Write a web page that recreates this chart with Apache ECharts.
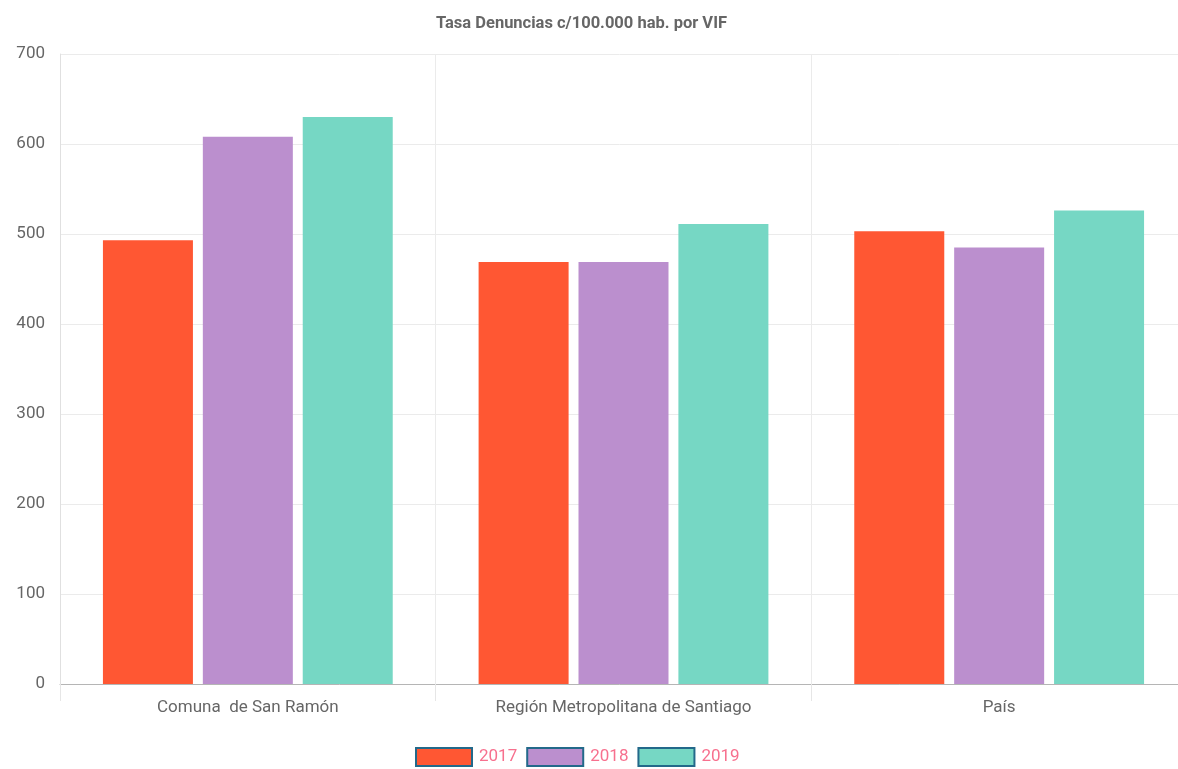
<!DOCTYPE html>
<html>
<head>
<meta charset="utf-8">
<script src="https://cdn.jsdelivr.net/npm/echarts@6/dist/echarts.min.js"></script>
<style>
html,body{margin:0;padding:0;background:#fff;}
#chart{width:1178px;height:769px;}
</style>
</head>
<body>
<div id="chart"></div>
<script>
const categories = ['Comuna  de San Ramón', 'Región Metropolitana de Santiago', 'País'];
const years = ['2017', '2018', '2019'];
const values2017 = [493, 469, 503];
const values2018 = [608, 469, 485];
const values2019 = [630, 511, 526];
const colors = ['#ff5733', '#bb8fce', '#76d7c4'];
const yTicks = { min: 0, max: 700, interval: 100 };

const FONT = "'Roboto', sans-serif";
const seriesData = [values2017, values2018, values2019];

const chart = echarts.init(document.getElementById('chart'), null, { renderer: 'canvas' });
chart.setOption({
  animation: false,
  title: {
    text: 'Tasa Denuncias c/100.000 hab. por VIF',
    left: 436,
    top: 15,
    padding: 0,
    textStyle: { fontFamily: FONT, fontSize: 16.5, fontWeight: 'bold', color: '#666' }
  },
  legend: {
    data: years,
    left: 415,
    top: 747,
    padding: 0,
    itemWidth: 56,
    itemHeight: 18,
    itemGap: 9,
    icon: 'rect',
    itemStyle: { borderColor: '#23698a', borderWidth: 2 },
    textStyle: { fontFamily: FONT, fontSize: 17, color: '#f7708e', padding: [0, 0, 0, 2] }
  },
  grid: { left: 60, top: 54, right: -9, bottom: 85, outerBoundsMode: 'none', containLabel: false },
  xAxis: {
    type: 'category',
    data: categories,
    axisLine: { lineStyle: { color: '#b5b5b5', width: 1 } },
    axisTick: { show: true, length: 17, lineStyle: { color: '#e6e6e6' } },
    splitLine: { show: true, lineStyle: { color: '#ebebeb' } },
    axisLabel: { fontFamily: FONT, fontSize: 17, color: '#666', margin: 15 }
  },
  yAxis: {
    type: 'value',
    min: yTicks.min,
    max: yTicks.max,
    interval: yTicks.interval,
    axisLine: { show: true, lineStyle: { color: '#e0e0e0' } },
    axisTick: { show: false },
    splitLine: { show: true, lineStyle: { color: '#ebebeb' } },
    axisLabel: { fontFamily: FONT, fontSize: 17, color: '#666', margin: 15 }
  },
  series: years.map((y, i) => ({
    name: y,
    type: 'bar',
    data: seriesData[i],
    barWidth: 90,
    barGap: '11%',
    itemStyle: { color: colors[i] },
    emphasis: { disabled: true }
  }))
});
</script>
</body>
</html>
